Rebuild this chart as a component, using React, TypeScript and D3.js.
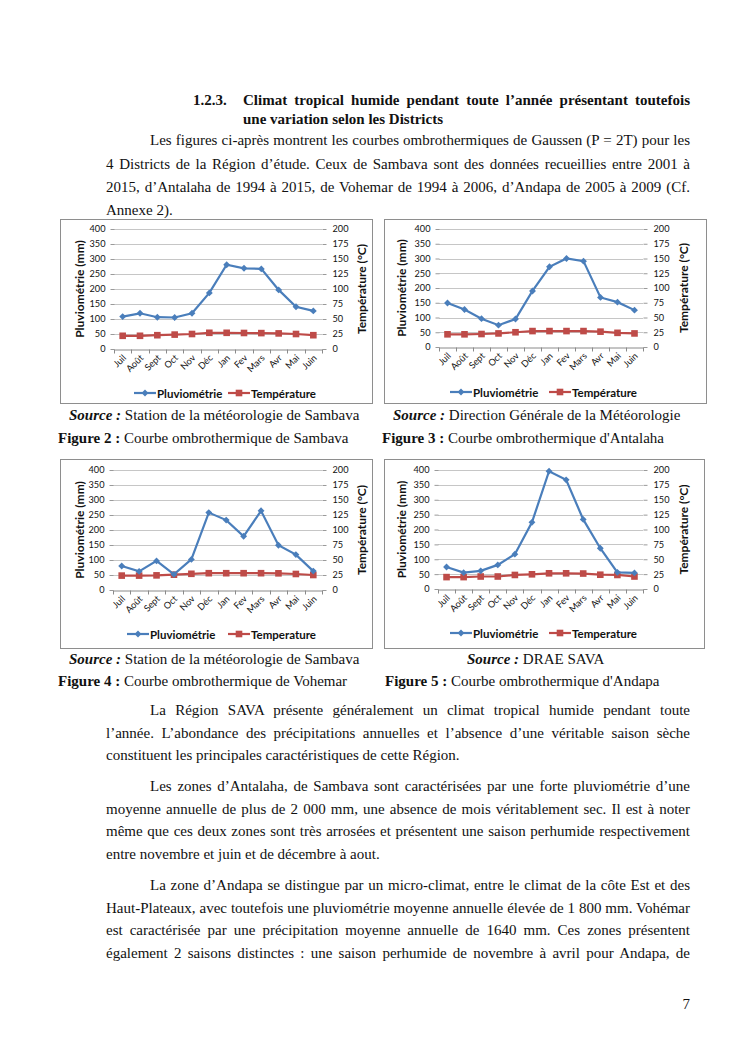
import React, { useEffect, useRef } from 'react'
import * as d3 from 'd3'

const months = ['Juil', 'Août', 'Sept', 'Oct', 'Nov', 'Déc', 'Jan', 'Fev', 'Mars', 'Avr', 'Mai', 'Juin']
const pluieTicks = [0, 50, 100, 150, 200, 250, 300, 350, 400]
const tempTicks = [0, 25, 50, 75, 100, 125, 150, 175, 200]

const sambavaPluie = [108, 119, 106, 105, 119, 187, 281, 269, 267, 197, 141, 127]
const sambavaTemp = [22, 22, 23, 24, 25, 27, 27, 26.7, 26.5, 26, 25, 23]
const antalahaPluie = [149, 127, 96, 74, 95, 190, 272, 300, 291, 168, 152, 125]
const antalahaTemp = [21.5, 21.5, 22, 23, 25, 27, 27, 27, 27, 26, 24, 23]
const vohemarPluie = [80, 62, 97, 52, 102, 258, 233, 179, 264, 149, 118, 63]
const vohemarTemp = [24, 24, 24.4, 25.5, 27, 28, 28, 28, 28, 27.8, 26.7, 25]
const andapaPluie = [74, 55, 61, 81, 117, 224, 396, 367, 234, 137, 56, 54]
const andapaTemp = [20, 20, 21, 21, 23.6, 24.7, 26.4, 26.4, 26, 24, 23.6, 21]

const BLUE = '#4a7ebb'
const RED = '#be4b48'
const CHART_FONT = 'Lato, "Noto Sans", sans-serif'
const BODY_FONT = '"Liberation Serif", "Times New Roman", serif'

interface ChartCfg {
    box: [number, number, number, number]
    x0: number
    x1: number
    yT: number
    yB: number
    leftTitleX: number
    rightTitleX: number
    legendY: number
    legendX: [number, number]
    pluie: number[]
    temp: number[]
    tempLabel: string
}

const charts: ChartCfg[] = [
    {
        box: [60, 219, 312, 184], x0: 114, x1: 322, yT: 229, yB: 349,
        leftTitleX: 79, rightTitleX: 361, legendY: 393, legendX: [134, 228],
        pluie: sambavaPluie, temp: sambavaTemp, tempLabel: 'Température',
    },
    {
        box: [384, 219, 322, 184], x0: 439, x1: 643, yT: 229, yB: 347,
        leftTitleX: 401, rightTitleX: 683, legendY: 392, legendX: [450, 549],
        pluie: antalahaPluie, temp: antalahaTemp, tempLabel: 'Température',
    },
    {
        box: [60, 459, 312, 189], x0: 113, x1: 322, yT: 470, yB: 590,
        leftTitleX: 79, rightTitleX: 361, legendY: 634, legendX: [127, 228],
        pluie: vohemarPluie, temp: vohemarTemp, tempLabel: 'Temperature',
    },
    {
        box: [384, 459, 320, 189], x0: 438, x1: 643, yT: 470, yB: 589,
        leftTitleX: 401, rightTitleX: 683, legendY: 633, legendX: [450, 549],
        pluie: andapaPluie, temp: andapaTemp, tempLabel: 'Temperature',
    },
]

// body text lines: [text, x, baseline, justify to right margin?]
const headingLines: [string, number, number, boolean][] = [
    ['1.2.3.', 193, 105, false],
    ['Climat tropical humide pendant toute l’année présentant toutefois', 243, 105, true],
    ['une variation selon les Districts', 243, 124, false],
]
const bodyLines: [string, number, number, boolean][] = [
    ['Les figures ci-après montrent les courbes ombrothermiques de Gaussen  (P = 2T) pour les', 150, 145, true],
    ['4 Districts de la Région d’étude. Ceux de Sambava sont des données recueillies entre 2001 à', 106, 169, true],
    ['2015, d’Antalaha de 1994 à 2015, de Vohemar de 1994 à 2006, d’Andapa de 2005 à 2009 (Cf.', 106, 192, true],
    ['Annexe 2).', 106, 215, false],
    ['La Région SAVA présente généralement un climat tropical humide pendant toute', 150, 715, true],
    ['l’année. L’abondance des précipitations annuelles et l’absence d’une véritable saison sèche', 106, 738, true],
    ['constituent les principales caractéristiques de cette Région.', 106, 760, false],
    ['Les zones d’Antalaha, de Sambava sont caractérisées par une forte pluviométrie d’une', 150, 791, true],
    ['moyenne annuelle de plus de 2 000 mm, une absence de mois véritablement sec. Il est à noter', 106, 814, true],
    ['même que ces deux zones sont très arrosées et présentent une saison perhumide respectivement', 106, 836, true],
    ['entre novembre et juin et de décembre à aout.', 106, 859, false],
    ['La zone d’Andapa se distingue par un micro-climat, entre le climat de la côte Est et des', 150, 890, true],
    ['Haut-Plateaux, avec toutefois une pluviométrie moyenne annuelle élevée de 1 800 mm. Vohémar', 106, 913, true],
    ['est caractérisée par une précipitation moyenne annuelle de 1640 mm. Ces zones présentent', 106, 935, true],
    ['également 2 saisons distinctes : une saison perhumide de novembre à avril pour Andapa, de', 106, 958, true],
]
// captions: [bold part, italic?, rest, x, baseline]
const captions: [string, boolean, string, number, number][] = [
    ['Source :', true, ' Station de la météorologie de Sambava', 69, 420],
    ['Source :', true, ' Direction Générale de la Météorologie', 393, 420],
    ['Figure 2 :', false, ' Courbe ombrothermique de Sambava', 58, 443],
    ['Figure 3 :', false, ' Courbe ombrothermique d\'Antalaha', 382, 443],
    ['Source :', true, ' Station de la météorologie de Sambava', 69, 664],
    ['Source :', true, ' DRAE SAVA', 467, 664],
    ['Figure 4 :', false, ' Courbe ombrothermique de Vohemar', 58, 686],
    ['Figure 5 :', false, ' Courbe ombrothermique d\'Andapa', 385, 686],
]

const RIGHT_MARGIN = 690

type Sel = d3.Selection<SVGGElement, unknown, null, undefined>

function drawChart(root: Sel, c: ChartCfg) {
    const g = root.append('g')
    const [bx, by, bw, bh] = c.box
    g.append('rect')
        .attr('x', bx + 0.5).attr('y', by + 0.5).attr('width', bw).attr('height', bh)
        .attr('fill', 'white').attr('stroke', '#8e8e8e').attr('stroke-width', 1)

    const x = d3.scaleBand<string>().domain(months).range([c.x0, c.x1])
    const yL = d3.scaleLinear().domain([0, 400]).range([c.yB, c.yT])
    const yR = d3.scaleLinear().domain([0, 200]).range([c.yB, c.yT])
    const cx = (m: string) => (x(m) ?? 0) + x.bandwidth() / 2

    // gridlines
    g.selectAll('line.grid').data(pluieTicks.slice(1)).join('line')
        .attr('x1', c.x0).attr('x2', c.x1)
        .attr('y1', (d) => Math.round(yL(d)) + 0.5).attr('y2', (d) => Math.round(yL(d)) + 0.5)
        .attr('stroke', '#b8b8b8').attr('stroke-width', 0.8)

    const styleAxis = (a: Sel, keepDomain: boolean) => {
        a.attr('font-family', CHART_FONT).attr('font-size', 9.2)
        a.selectAll('.domain').attr('stroke', keepDomain ? '#8a8a8a' : 'none')
        a.selectAll('.tick line').attr('stroke', '#9a9a9a')
        a.selectAll('text').attr('fill', '#111')
    }

    const aL = g.append('g').attr('transform', `translate(${c.x0 + 0.5},0)`)
    aL.call(d3.axisLeft(yL).tickValues(pluieTicks).tickSize(4).tickSizeOuter(0).tickPadding(5))
    styleAxis(aL, false)

    const aR = g.append('g').attr('transform', `translate(${c.x1 + 0.5},0)`)
    aR.call(d3.axisRight(yR).tickValues(tempTicks).tickSize(4).tickSizeOuter(0).tickPadding(6))
    styleAxis(aR, false)

    // x axis with ticks between categories
    const aB = g.append('g').attr('transform', `translate(0,${Math.round(c.yB) + 0.5})`)
    aB.call(d3.axisBottom(x).tickSize(0).tickSizeOuter(0).tickPadding(0))
    styleAxis(aB, true)
    aB.selectAll('.tick text')
        .attr('text-anchor', 'end')
        .attr('dy', 0)
        .attr('transform', 'translate(4,9) rotate(-45)')
    const bounds = [...months.map((m) => x(m) ?? 0), c.x1]
    aB.selectAll('line.sep').data(bounds).join('line')
        .attr('class', 'sep')
        .attr('x1', (d) => Math.round(d) + 0.5).attr('x2', (d) => Math.round(d) + 0.5)
        .attr('y1', 0).attr('y2', 4)
        .attr('stroke', '#8a8a8a')

    // axis titles
    g.append('text')
        .attr('transform', `translate(${c.leftTitleX},${(c.yT + c.yB) / 2}) rotate(-90)`)
        .attr('text-anchor', 'middle').attr('dominant-baseline', 'central')
        .attr('font-family', CHART_FONT).attr('font-size', 12).attr('font-weight', 'bold')
        .attr('fill', '#111')
        .text('Pluviométrie (mm)')
    g.append('text')
        .attr('transform', `translate(${c.rightTitleX},${(c.yT + c.yB) / 2}) rotate(-90)`)
        .attr('text-anchor', 'middle').attr('dominant-baseline', 'central')
        .attr('font-family', CHART_FONT).attr('font-size', 12).attr('font-weight', 'bold')
        .attr('fill', '#111')
        .text('Température (°C)')

    // series
    const pluieLine = d3.line<number>().x((_, i) => cx(months[i])).y((d) => yL(d))
    const tempLine = d3.line<number>().x((_, i) => cx(months[i])).y((d) => yR(d))

    g.append('path').attr('d', tempLine(c.temp)).attr('fill', 'none')
        .attr('stroke', RED).attr('stroke-width', 2.2)
    g.selectAll('rect.tmark').data(c.temp).join('rect')
        .attr('x', (_, i) => cx(months[i]) - 3.3).attr('y', (d) => yR(d) - 3.3)
        .attr('width', 6.6).attr('height', 6.6)
        .attr('fill', RED)

    g.append('path').attr('d', pluieLine(c.pluie)).attr('fill', 'none')
        .attr('stroke', BLUE).attr('stroke-width', 2.2)
    const diamond = d3.symbol().type(d3.symbolDiamond2).size(30)
    g.selectAll('path.pmark').data(c.pluie).join('path')
        .attr('d', diamond()!)
        .attr('transform', (d, i) => `translate(${cx(months[i])},${yL(d)})`)
        .attr('fill', BLUE)

    // legend
    const lg = g.append('g').attr('font-family', CHART_FONT).attr('font-size', 11.5)
        .attr('font-weight', 'bold').attr('fill', '#111')
    const [lx1, lx2] = c.legendX
    lg.append('line').attr('x1', lx1).attr('x2', lx1 + 22).attr('y1', c.legendY).attr('y2', c.legendY)
        .attr('stroke', BLUE).attr('stroke-width', 2.2)
    lg.append('path').attr('d', diamond()!).attr('transform', `translate(${lx1 + 11},${c.legendY})`)
        .attr('fill', BLUE)
    lg.append('text').attr('x', lx1 + 23).attr('y', c.legendY).attr('dominant-baseline', 'central')
        .text('Pluviométrie')
    lg.append('line').attr('x1', lx2).attr('x2', lx2 + 22).attr('y1', c.legendY).attr('y2', c.legendY)
        .attr('stroke', RED).attr('stroke-width', 2.2)
    lg.append('rect').attr('x', lx2 + 11 - 3.3).attr('y', c.legendY - 3.3).attr('width', 6.6)
        .attr('height', 6.6).attr('fill', RED)
    lg.append('text').attr('x', lx2 + 23).attr('y', c.legendY).attr('dominant-baseline', 'central')
        .text(c.tempLabel)
}

function addLine(root: Sel, text: string, x: number, y: number, justify: boolean, bold: boolean) {
    const clean = text.replace(/ {2,}/g, ' ')
    const t = root.append('text')
        .attr('x', x).attr('y', y)
        .attr('font-family', BODY_FONT).attr('font-size', 15)
        .attr('font-weight', bold ? 'bold' : 'normal')
        .attr('fill', '#111')
        .text(clean)
    if (justify) {
        const natural = (t.node() as SVGTextElement).getComputedTextLength()
        const spaces = (clean.match(/ /g) || []).length
        if (spaces > 0) t.attr('word-spacing', (RIGHT_MARGIN - x - natural) / spaces)
    }
}

export default function App() {
    const svgRef = useRef<SVGSVGElement | null>(null)

    useEffect(() => {
        const svg = d3.select(svgRef.current)
        svg.selectAll('*').remove()
        const root = svg.append('g') as unknown as Sel
        root.append('rect').attr('width', 745).attr('height', 1053).attr('fill', 'white')

        headingLines.forEach(([t, x, y, j]) => addLine(root, t, x, y, j, true))
        bodyLines.forEach(([t, x, y, j]) => addLine(root, t, x, y, j, false))

        charts.forEach((c) => drawChart(root, c))

        captions.forEach(([b, it, rest, x, y]) => {
            const t = root.append('text').attr('x', x).attr('y', y)
                .attr('font-family', BODY_FONT).attr('font-size', 15).attr('fill', '#111')
            t.append('tspan').attr('font-weight', 'bold').attr('font-style', it ? 'italic' : 'normal').text(b)
            t.append('tspan').text(rest)
        })

        root.append('text').attr('x', RIGHT_MARGIN).attr('y', 1009).attr('text-anchor', 'end')
            .attr('font-family', BODY_FONT).attr('font-size', 15).attr('fill', '#111').text('7')
    }, [])

    return (
        <svg
            ref={svgRef}
            width={745}
            height={1053}
            style={{ position: 'absolute', left: 0, top: 0, display: 'block' }}
        />
    )
}
